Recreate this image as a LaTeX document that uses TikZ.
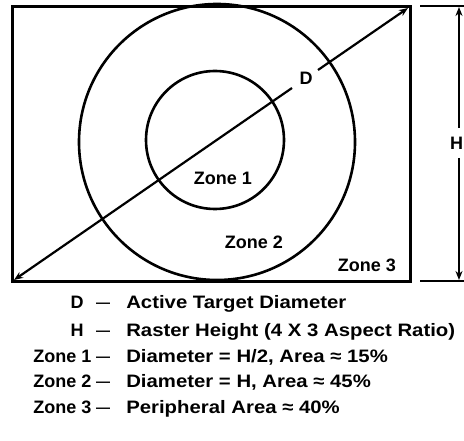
\documentclass[tikz,border=0pt]{standalone}
\usepackage{fontspec}
\setmainfont{Liberation Sans}
\newfontfamily\legfont[FakeStretch=1.13]{Liberation Sans}
\usetikzlibrary{arrows.meta}
\begin{document}
\begin{tikzpicture}[x=1pt,y=-1pt,line width=2.6pt,
  lbl/.style={font=\fontsize{18}{20}\selectfont\bfseries,inner sep=0pt},
  leg/.style={font=\fontsize{18}{20}\selectfont\legfont\bfseries,inner sep=0pt,anchor=base west},
  tipend/.style={-{Stealth[length=9pt,width=7pt]}},
  ring/.style={circle,draw,line width=2.6pt,inner sep=0pt}]
\useasboundingbox (0,0) rectangle (464,441);
% frame
\draw[line width=3pt] (12,7) rectangle (410,282);
% circles
\node[ring,minimum size=276pt] (outer) at (217,142) {};
\node[ring,minimum size=138pt] (inner) at (215,140) {};
% diagonal
\coordinate (bl) at (14,280);
\coordinate (tr) at (408,8);
\coordinate (g1) at (292,88);
\coordinate (g2) at (318,70);
\draw[tipend,line width=2.2pt] (g1) -- (bl);
\draw[tipend,line width=2.2pt] (g2) -- (tr);
\node[lbl] (dlab) at (306,78) {D};
% zone labels
\node[lbl] (z1) at (223,178) {Zone 1};
\node[lbl] (z2) at (254,242) {Zone 2};
\node[lbl] (z3) at (367,265) {Zone 3};
% height dimension
\coordinate (ta) at (420,6);
\coordinate (tb) at (464,6);
\coordinate (ba) at (420,281);
\coordinate (bb) at (464,281);
\draw[line width=2.6pt] (ta) -- (tb);
\draw[line width=2.6pt] (ba) -- (bb);
\coordinate (ht) at (459,7);
\coordinate (hb) at (459,280);
\coordinate (hg1) at (459,128);
\coordinate (hg2) at (459,158);
\draw[tipend,line width=2pt] (hg1) -- (ht);
\draw[tipend,line width=2pt] (hg2) -- (hb);
\node[lbl] (hlab) at (456.5,143) {H};
% legend
\node[lbl,anchor=base] (kD) at (77,308.5) {D};
\node[lbl,anchor=base] (kH) at (77,336.5) {H};
\node[lbl,anchor=base west] (k1) at (32,362.5) {Zone 1};
\node[lbl,anchor=base west] (k2) at (32,387.5) {Zone 2};
\node[lbl,anchor=base west] (k3) at (32,413.5) {Zone 3};
\foreach \y/\n in {308.5/a,336.5/b,362.5/c,387.5/d,413.5/e}
  \node[lbl,font=\fontsize{14}{16}\selectfont\bfseries,anchor=base] (dash\n) at (103,\y-1) {—};
\node[leg] (tD) at (125,308.5) {Active Target Diameter};
\node[leg] (tH) at (125,336.5) {Raster Height (4 X 3 Aspect Ratio)};
\node[leg] (t1) at (125,362.5) {Diameter = H/2, Area ≈ 15\%};
\node[leg] (t2) at (125,387.5) {Diameter = H, Area ≈ 45\%};
\node[leg] (t3) at (125,413.5) {Peripheral Area ≈ 40\%};
\end{tikzpicture}
\end{document}
